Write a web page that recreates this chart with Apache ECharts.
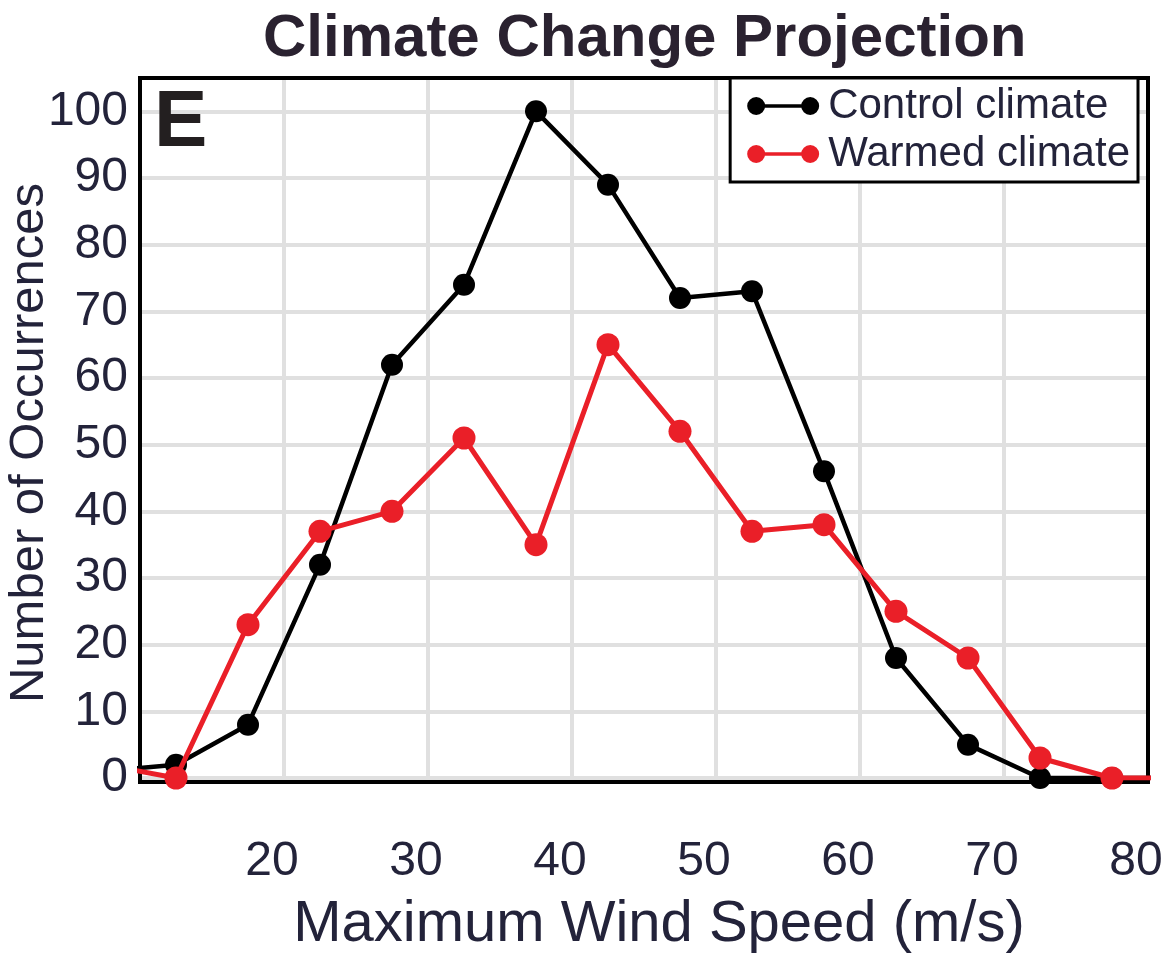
<!DOCTYPE html>
<html>
<head>
<meta charset="utf-8">
<title>Climate Change Projection</title>
<script src="https://cdn.jsdelivr.net/npm/echarts@6/dist/echarts.min.js"></script>
<style>
  html, body { margin: 0; padding: 0; background: #fff; }
  #chart { width: 1161px; height: 961px; }
</style>
</head>
<body>
<div id="chart"></div>
<script>
// Bin centres of maximum wind speed (m/s); the outer bins run past the plot edges
const windSpeed = [7.5, 12.5, 17.5, 22.5, 27.5, 32.5, 37.5, 42.5, 47.5, 52.5, 57.5, 62.5, 67.5, 72.5, 77.5, 82.5];
const controlClimate = [1, 2, 8, 32, 62, 74, 100, 89, 72, 73, 46, 18, 5, 0, 0, 0];
const warmedClimate  = [2, 0, 23, 37, 40, 51, 35, 65, 52, 37, 38, 25, 18, 3, 0, 0];
const seriesNames = ['Control climate', 'Warmed climate'];
const xTickLabels = [20, 30, 40, 50, 60, 70, 80];

const FONT = '"Liberation Sans", Arial, Helvetica, sans-serif';
const TEXT = '#23233a';

const pairs = (ys) => windSpeed.map((x, i) => [x, ys[i]]);

// Legend key: two dots joined by a bar (all sub-paths wound the same way)
const dumbbell = 'path://M0,10A10,10 0 1,0 20,10A10,10 0 1,0 0,10Z' +
  'M60,10A10,10 0 1,0 80,10A10,10 0 1,0 60,10Z' +
  'M18,8L18,12L62,12L62,8Z';

const chart = echarts.init(document.getElementById('chart'), null, { renderer: 'canvas' });

chart.setOption({
  backgroundColor: '#ffffff',
  animation: false,
  title: {
    text: 'Climate Change Projection',
    left: 258,
    top: 4,
    textStyle: { fontFamily: FONT, fontSize: 60, fontWeight: 'bold', color: '#2a2230' }
  },
  grid: {
    left: 140, right: 13, top: 78, bottom: 183,
    outerBoundsMode: 'none',
    containLabel: false,
    show: true, borderColor: '#000', borderWidth: 3, backgroundColor: 'transparent'
  },
  legend: {
    orient: 'vertical',
    right: 23,
    top: 78,
    data: seriesNames,
    icon: dumbbell,
    itemWidth: 76,
    itemHeight: 18,
    itemGap: 4,
    padding: [6, 8, 6, 17],
    borderColor: '#000',
    borderWidth: 3,
    backgroundColor: '#fff',
    textStyle: { fontFamily: FONT, fontSize: 42, color: TEXT, lineHeight: 44, padding: [0, 0, 0, 2] }
  },
  xAxis: {
    type: 'value',
    min: 10,
    max: 80,
    interval: 10,
    name: 'Maximum Wind Speed (m/s)',
    nameLocation: 'middle',
    nameGap: 118,
    nameMoveOverlap: false,
    nameTextStyle: { fontFamily: FONT, fontSize: 58, color: TEXT, padding: [0, 0, 0, 30] },
    axisLine: { show: false },
    axisTick: { show: false },
    splitLine: { show: true, showMinLine: false, showMaxLine: false, lineStyle: { color: '#e0e0e0', width: 4 } },
    axisLabel: {
      margin: 60,
      fontFamily: FONT,
      fontSize: 48,
      color: TEXT,
      padding: [0, 24, 0, 0],
      formatter: (v) => (xTickLabels.indexOf(v) >= 0 ? String(v) : '')
    }
  },
  yAxis: {
    type: 'value',
    min: 0,
    max: 105,
    interval: 10,
    name: 'Number of Occurrences',
    nameLocation: 'middle',
    nameRotate: 90,
    nameGap: 86,
    nameMoveOverlap: false,
    nameTextStyle: { fontFamily: FONT, fontSize: 49, color: TEXT, padding: [0, 30, 0, 0] },
    axisLine: { show: false },
    axisTick: { show: false },
    splitLine: { show: true, showMinLine: true, showMaxLine: false, lineStyle: { color: '#e0e0e0', width: 4 } },
    axisLabel: {
      margin: 12,
      fontFamily: FONT,
      fontSize: 48,
      color: TEXT,
      formatter: (v) => (v % 10 === 0 && v <= 100 ? String(v) : '')
    }
  },
  graphic: [
    {
      type: 'text',
      left: 154,
      top: 84,
      z: 10,
      style: { text: 'E', font: 'bold 80px ' + FONT, fill: '#231f20' }
    },
    {
      // Plot frame, kept above the grid lines
      type: 'rect',
      z: 2,
      silent: true,
      shape: { x: 140, y: 78, width: 1008, height: 704 },
      style: { fill: null, stroke: '#000', lineWidth: 4 }
    }
  ],
  series: [
    {
      name: seriesNames[0],
      type: 'line',
      data: pairs(controlClimate),
      clip: true,
      symbol: 'circle',
      symbolSize: 22,
      color: '#000000',
      lineStyle: { color: '#000000', width: 4.5 },
      itemStyle: { color: '#000000' },
      z: 3
    },
    {
      name: seriesNames[1],
      type: 'line',
      data: pairs(warmedClimate),
      clip: true,
      symbol: 'circle',
      symbolSize: 23,
      color: '#ea1f28',
      lineStyle: { color: '#ea1f28', width: 5 },
      itemStyle: { color: '#ea1f28' },
      z: 4
    }
  ]
});
</script>
</body>
</html>
